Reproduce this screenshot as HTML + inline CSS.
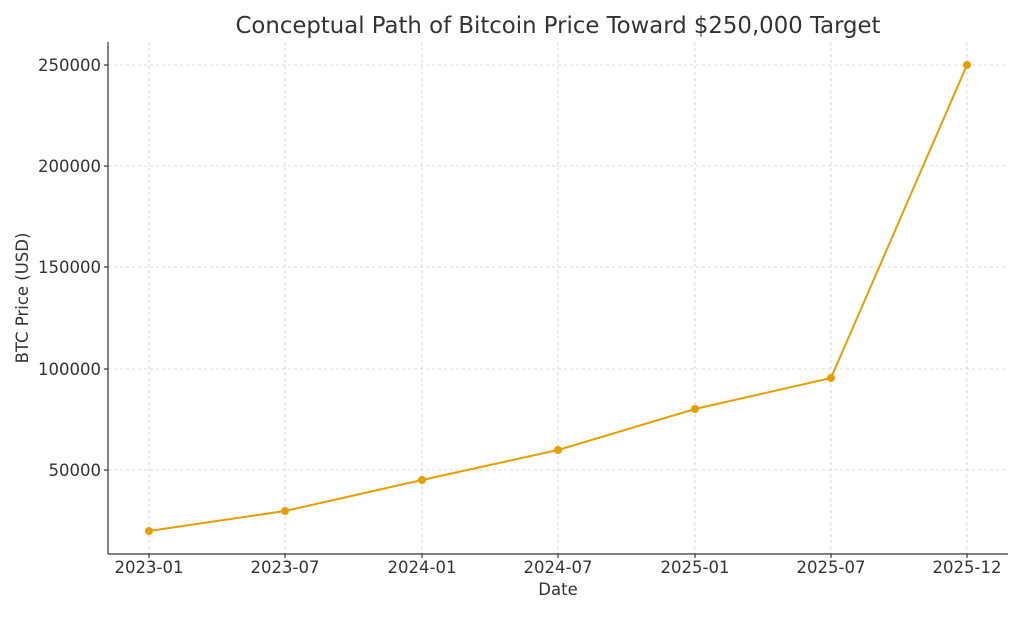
<!DOCTYPE html>
<html><head><meta charset="utf-8"><style>
html,body{margin:0;padding:0;background:#fff;}
svg text{font-family:"DejaVu Sans","Liberation Sans",sans-serif;fill:#333;}
</style></head><body>
<svg width="1024" height="614" viewBox="0 0 1024 614" xmlns="http://www.w3.org/2000/svg">
<rect width="1024" height="614" fill="#fff"/>
<g stroke="#ccc" stroke-width="0.8" stroke-dasharray="3,3">
<line x1="108" x2="1008" y1="65" y2="65"/>
<line x1="108" x2="1008" y1="166" y2="166"/>
<line x1="108" x2="1008" y1="267" y2="267"/>
<line x1="108" x2="1008" y1="369" y2="369"/>
<line x1="108" x2="1008" y1="470" y2="470"/>
<line x1="149" x2="149" y1="42" y2="554"/>
<line x1="285" x2="285" y1="42" y2="554"/>
<line x1="422" x2="422" y1="42" y2="554"/>
<line x1="558" x2="558" y1="42" y2="554"/>
<line x1="695" x2="695" y1="42" y2="554"/>
<line x1="831" x2="831" y1="42" y2="554"/>
<line x1="967" x2="967" y1="42" y2="554"/>
</g>
<g stroke="#333" stroke-width="1.2">
<line x1="108" x2="108" y1="42" y2="554"/>
<line x1="108" x2="1008" y1="554" y2="554"/>
<line x1="104" x2="108" y1="65" y2="65"/>
<line x1="104" x2="108" y1="166" y2="166"/>
<line x1="104" x2="108" y1="267" y2="267"/>
<line x1="104" x2="108" y1="369" y2="369"/>
<line x1="104" x2="108" y1="470" y2="470"/>
<line x1="149" x2="149" y1="554" y2="558"/>
<line x1="285" x2="285" y1="554" y2="558"/>
<line x1="422" x2="422" y1="554" y2="558"/>
<line x1="558" x2="558" y1="554" y2="558"/>
<line x1="695" x2="695" y1="554" y2="558"/>
<line x1="831" x2="831" y1="554" y2="558"/>
<line x1="967" x2="967" y1="554" y2="558"/>
</g>
<g font-size="16.5" text-anchor="end">
<text x="101" y="71">250000</text>
<text x="101" y="172">200000</text>
<text x="101" y="273">150000</text>
<text x="101" y="375">100000</text>
<text x="101" y="476">50000</text>
</g>
<g font-size="16.5" text-anchor="middle">
<text x="149" y="573">2023-01</text>
<text x="285" y="573">2023-07</text>
<text x="422" y="573">2024-01</text>
<text x="558" y="573">2024-07</text>
<text x="695" y="573">2025-01</text>
<text x="831" y="573">2025-07</text>
<text x="967" y="573">2025-12</text>
</g>
<text x="558" y="595" font-size="16.5" text-anchor="middle">Date</text>
<text transform="translate(28,298) rotate(-90)" font-size="16.5" text-anchor="middle">BTC Price (USD)</text>
<text x="558" y="33" font-size="22.8" text-anchor="middle">Conceptual Path of Bitcoin Price Toward $250,000 Target</text>
<polyline fill="none" stroke="#E69F00" stroke-width="2" points="149,531 285,511 422,480 558,450 695,409 831,378 967,65"/>
<g fill="#E69F00">
<circle cx="149" cy="531" r="4"/><circle cx="285" cy="511" r="4"/><circle cx="422" cy="480" r="4"/>
<circle cx="558" cy="450" r="4"/><circle cx="695" cy="409" r="4"/><circle cx="831" cy="378" r="4"/>
<circle cx="967" cy="65" r="4"/>
</g>
</svg>
</body></html>
